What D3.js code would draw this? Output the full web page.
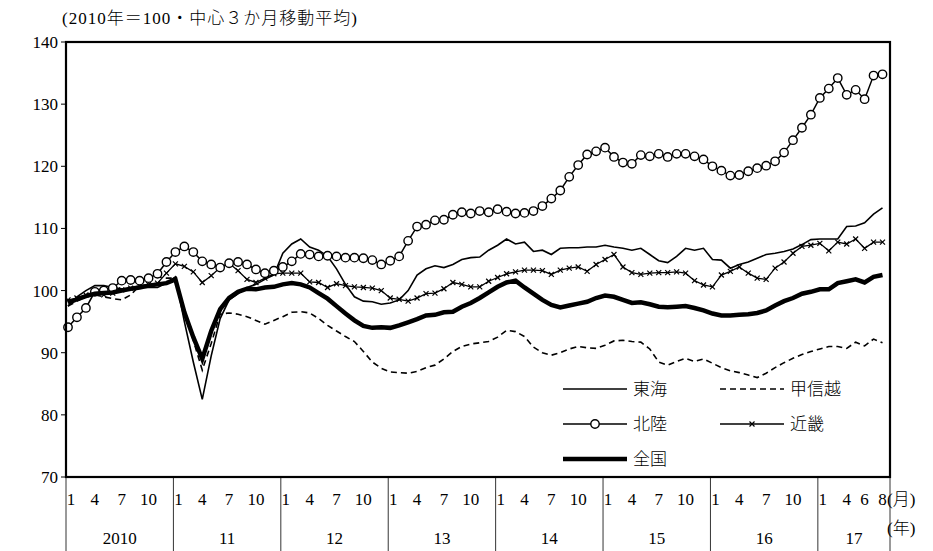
<!DOCTYPE html>
<html><head><meta charset="utf-8">
<script src="https://d3js.org/d3.v7.min.js"></script>
<style>body{margin:0;background:#fff}text{font-family:"Liberation Serif","Noto Sans CJK JP",serif;fill:#000}.jp{font-weight:300}</style>
</head><body><svg id="c" width="933" height="551"></svg>
<script>
// monthly index Jan 2010 .. Aug 2017 (92 points)
const tokai = [97.5,99,100,100.8,100.8,100.5,100.3,100.3,100.5,100.5,100.5,101.2,
  102.2,95,88.5,82.5,89.5,95.5,98.5,99.5,100.5,101,101.8,102.5,
  106,107.5,108.3,107,106.5,105.5,103.5,101,99,98.3,98.2,97.8,
  98,98.5,100,102.5,103.5,104,103.7,104.2,105,105.3,105.4,106.5,
  107.3,108.3,107.5,107.8,106.3,106.5,105.8,106.8,106.9,106.9,107,107,
  107.3,107,106.8,106.5,106.8,105.8,104.8,104.5,105.5,106.8,106.5,106.8,
  105,104.9,103.6,104.2,104.6,105.2,105.8,106,106.3,106.7,107.4,108.2,
  108.3,108.3,108.3,110.3,110.4,110.9,112.3,113.3];
const koshinetsu = [97.5,98.3,99,99.3,99,98.7,98.5,99.3,100.8,102.3,102.2,102,
  102,97,92,87.2,91.5,96.2,96.4,96.2,95.8,95.2,94.6,95.2,
  95.8,96.5,96.6,96.4,95.5,94.4,93.5,92.6,91.8,90.2,88.5,87.5,
  86.9,86.8,86.7,87,87.6,88,89,90.2,91,91.4,91.6,91.8,
  92.5,93.6,93.4,92.6,90.9,90,89.6,90,90.6,91,90.8,90.7,
  91.2,91.9,92,91.8,91.7,90.6,88.5,88,88.6,89.1,88.6,89,
  88.3,87.6,87.1,86.8,86.4,86,86.7,87.6,88.4,89.1,89.7,90.2,
  90.6,91,91,90.7,91.7,91.1,92.2,91.6];
const hokuriku = [94.1,95.7,97.2,99.8,100,100.4,101.6,101.7,101.6,102,102.7,104.6,
  106.2,107.1,106.2,104.7,104.2,103.7,104.4,104.6,104.2,103.4,102.8,103.2,
  103.8,104.7,105.9,105.8,105.5,105.6,105.5,105.3,105.3,105.2,104.9,104.2,
  104.8,105.5,108,110.3,110.6,111.3,111.4,112.2,112.6,112.4,112.8,112.6,
  113.1,112.7,112.4,112.5,112.8,113.6,114.8,116.1,118.3,120.2,121.9,122.4,
  123,121.5,120.6,120.4,121.8,121.6,122,121.5,122,122,121.6,121.1,
  120,119.3,118.5,118.6,119.2,119.7,120.1,120.8,122.2,124.2,126.2,128.3,
  131,132.5,134.2,131.5,132.3,130.8,134.6,134.8];
const kinki = [98.5,98.8,99.3,99.8,99.3,99.6,100.1,100.4,100.8,101,101.2,102.8,
  104.3,103.9,103,101.3,102.4,103.7,104.4,103.2,101.8,101.3,102,102.7,
  102.8,102.8,102.8,101.4,101.3,100.5,101.1,100.8,100.6,100.5,100.4,100,
  98.8,98.6,98.3,98.8,99.5,99.6,100.3,101.3,101,100.6,100.6,101.5,
  102.1,102.7,103,103.3,103.3,103.2,102.6,103.3,103.6,103.8,103.1,104.2,
  105,105.8,103.8,102.9,102.6,102.8,102.9,102.9,103,102.8,101.6,100.9,
  100.6,102.5,103.1,103.8,102.8,102,101.8,103.6,104.6,106,107.1,107.3,
  107.6,106.4,107.8,107.5,108.3,106.8,107.8,107.8];
const zenkoku = [98,98.6,99.1,99.5,99.6,99.7,100,100.3,100.5,100.8,101,101.2,
  101.8,96.5,92.5,89,93.5,97,98.8,99.8,100.3,100.2,100.5,100.6,
  101,101.2,101,100.5,99.6,98.7,97.5,96.3,95.2,94.3,94,94.1,
  94,94.4,94.9,95.4,96,96.1,96.5,96.6,97.4,98,98.8,99.7,
  100.6,101.3,101.6,100.5,99.5,98.5,97.7,97.3,97.6,97.9,98.2,98.8,
  99.2,99,98.5,98,98.1,97.8,97.4,97.3,97.4,97.5,97.2,96.8,
  96.3,96,96,96.1,96.2,96.4,96.8,97.6,98.3,98.8,99.5,99.8,
  100.2,100.2,101.2,101.5,101.8,101.3,102.2,102.5];
const years = ["2010","11","12","13","14","15","16","17"];
const monthTicks = [1,4,7,10];
const monthTicksLast = [1,4,6,8];
const yTicks = [70,80,90,100,110,120,130,140];

const svg = d3.select("#c");
const L = 66, R = 890, T = 42, B = 477;
const x = d3.scaleLinear().domain([0, 91]).range([68, 882.5]);
const y = d3.scaleLinear().domain([70, 140]).range([B, T]);
const yb = i => x(i) - 2; // year boundary

// y axis labels + ticks
svg.selectAll(".yl").data(yTicks).enter().append("text")
  .attr("x", L - 8).attr("y", d => y(d) + 6).attr("text-anchor", "end")
  .attr("font-size", 17).text(d => d);
svg.selectAll(".yt").data(yTicks).enter().append("line")
  .attr("x1", L - 5).attr("x2", L).attr("y1", d => y(d)).attr("y2", d => y(d))
  .attr("stroke", "#000");
svg.append("text").attr("class", "jp").attr("x", 62).attr("y", 24).attr("font-size", 17)
  .attr("letter-spacing", 1).text("(2010年＝100・中心３か月移動平均)");

const line = d3.line().x((d, i) => x(i)).y(d => y(d));
const plot = svg.append("g");
plot.append("path").datum(koshinetsu).attr("d", line).attr("fill", "none")
  .attr("stroke", "#000").attr("stroke-width", 1.6).attr("stroke-dasharray", "6,4");
plot.append("path").datum(tokai).attr("d", line).attr("fill", "none")
  .attr("stroke", "#000").attr("stroke-width", 1.6);
plot.append("path").datum(kinki).attr("d", line).attr("fill", "none")
  .attr("stroke", "#000").attr("stroke-width", 1.3);
plot.selectAll(".kx").data(kinki).enter().append("path")
  .attr("d", (d, i) => `M${x(i)-2.5},${y(d)-2.5}L${x(i)+2.5},${y(d)+2.5}M${x(i)-2.5},${y(d)+2.5}L${x(i)+2.5},${y(d)-2.5}`)
  .attr("stroke", "#000").attr("stroke-width", 1.2);
plot.append("path").datum(hokuriku).attr("d", line).attr("fill", "none")
  .attr("stroke", "#000").attr("stroke-width", 1.5);
plot.selectAll(".hc").data(hokuriku).enter().append("circle")
  .attr("cx", (d, i) => x(i)).attr("cy", d => y(d)).attr("r", 4.2)
  .attr("fill", "#fff").attr("stroke", "#000").attr("stroke-width", 1.4);
plot.append("path").datum(zenkoku).attr("d", line).attr("fill", "none")
  .attr("stroke", "#000").attr("stroke-width", 4.5);

// frame
svg.append("rect").attr("x", L).attr("y", T).attr("width", R - L).attr("height", B - T)
  .attr("fill", "none").attr("stroke", "#000").attr("stroke-width", 2.2);

// x category axis
years.forEach((yr, k) => {
  const x0 = yb(k * 12);
  const x1 = k < years.length - 1 ? yb((k + 1) * 12) : R;
  svg.append("line").attr("x1", x0).attr("x2", x0).attr("y1", B).attr("y2", 551)
    .attr("stroke", "#000").attr("stroke-width", 0.8);
  svg.append("text").attr("x", (x0 + x1) / 2).attr("y", 544).attr("text-anchor", "middle")
    .attr("font-size", 17).text(yr);
  const mt = k < years.length - 1 ? monthTicks : monthTicksLast;
  mt.forEach(m => {
    svg.append("text").attr("x", x(k * 12 + m - 1) + (m === 1 ? 3 : 0)).attr("y", 505)
      .attr("text-anchor", "middle").attr("font-size", 17).text(m);
  });
});
svg.append("line").attr("x1", R).attr("x2", R).attr("y1", B).attr("y2", 551)
  .attr("stroke", "#000").attr("stroke-width", 0.8);
svg.append("text").attr("class", "jp").attr("x", 887).attr("y", 505).attr("font-size", 17).text("(月)");
svg.append("text").attr("class", "jp").attr("x", 887).attr("y", 534).attr("font-size", 17).text("(年)");

// legend
const leg = [
  {n: "東海", d: null, w: 1.6, lx: 563, ly: 389},
  {n: "甲信越", d: "6,4", w: 1.6, lx: 720, ly: 389},
  {n: "北陸", d: null, w: 1.5, lx: 563, ly: 424, c: true},
  {n: "近畿", d: null, w: 1.3, lx: 720, ly: 424, xm: true},
  {n: "全国", d: null, w: 4.5, lx: 563, ly: 459}
];
leg.forEach(e => {
  const g = svg.append("g");
  g.append("line").attr("x1", e.lx).attr("x2", e.lx + 64).attr("y1", e.ly).attr("y2", e.ly)
    .attr("stroke", "#000").attr("stroke-width", e.w).attr("stroke-dasharray", e.d);
  if (e.c) g.append("circle").attr("cx", e.lx + 32).attr("cy", e.ly).attr("r", 4.2)
    .attr("fill", "#fff").attr("stroke", "#000").attr("stroke-width", 1.4);
  if (e.xm) g.append("path").attr("d", `M${e.lx+29.5},${e.ly-2.5}l5,5M${e.lx+29.5},${e.ly+2.5}l5,-5`)
    .attr("stroke", "#000").attr("stroke-width", 1.2);
  g.append("text").attr("class", "jp").attr("x", e.lx + 70).attr("y", e.ly + 6).attr("font-size", 17).text(e.n);
});
</script></body></html>
